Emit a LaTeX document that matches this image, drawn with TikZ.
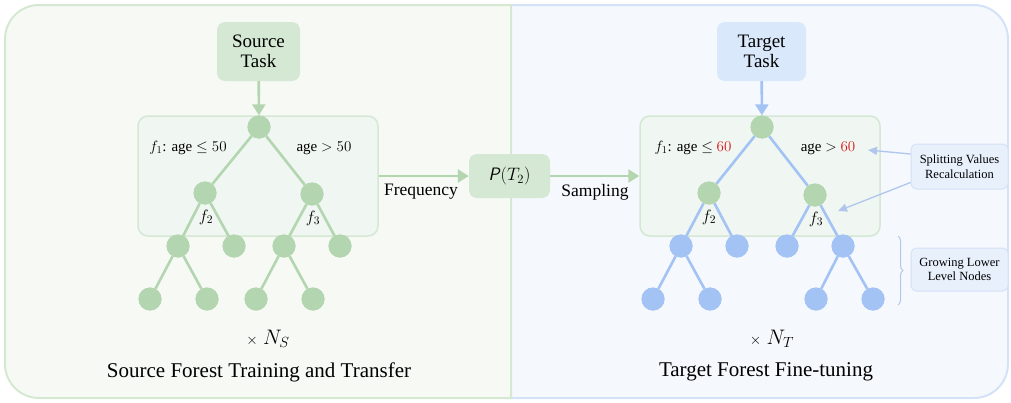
\RequirePackage{fix-cm}
\documentclass[tikz,border=0pt]{standalone}
\usepackage{fontspec}
\setmainfont{Liberation Serif}
\usetikzlibrary{arrows.meta,decorations.pathreplacing}
\definecolor{pgbg}{HTML}{F7F9F5}
\definecolor{pgbd}{HTML}{D5E8D2}
\definecolor{pbbg}{HTML}{F5F8FD}
\definecolor{pbbd}{HTML}{D4E2F7}
\definecolor{gtask}{HTML}{D5E8D4}
\definecolor{btask}{HTML}{DAE8FC}
\definecolor{treefill}{HTML}{F0F6F1}
\definecolor{gnode}{HTML}{B3D6B0}
\definecolor{bnode}{HTML}{A3C3F5}
\definecolor{annfill}{HTML}{E8F0FC}
\definecolor{annarrow}{HTML}{B0C6EC}
\definecolor{redval}{HTML}{D7191C}
\tikzset{
  taskbox/.style={rounded corners=8pt, inner sep=0pt, align=center, font=\fontsize{19}{22}\selectfont},
  treebox/.style={rounded corners=10pt, draw=gtask, line width=1.5pt, fill=treefill, inner sep=0pt, minimum width=240pt, minimum height=120pt},
  gn/.style={circle, fill=gnode, minimum size=23pt, inner sep=0pt},
  bn/.style={circle, fill=bnode, minimum size=23pt, inner sep=0pt},
  gedge/.style={draw=gnode, line width=2.6pt},
  bedge/.style={draw=bnode, line width=2.6pt},
  garrow/.style={draw=gnode, line width=2.6pt, -{Triangle[length=11pt,width=13pt]}},
  barrowbig/.style={draw=bnode, line width=2.6pt, -{Triangle[length=11pt,width=13pt]}},
  ann/.style={rounded corners=6pt, draw=pbbd, line width=1pt, fill=annfill, inner sep=0pt, minimum width=97pt, align=center, font=\fontsize{12.5}{14.5}\selectfont},
  annarr/.style={draw=annarrow, line width=1.3pt, -{Triangle[length=9pt,width=8pt]}},
  lab/.style={inner sep=0pt, font=\fontsize{15}{17}\selectfont},
  flab/.style={inner sep=0pt, font=\fontsize{16.5}{18}\selectfont},
  midlab/.style={inner sep=0pt, font=\fontsize{17.5}{20}\selectfont},
  title/.style={inner sep=0pt, font=\fontsize{21}{24}\selectfont},
  nlab/.style={inner sep=0pt, font=\fontsize{21}{24}\selectfont},
}
\begin{document}
\begin{tikzpicture}[x=1pt,y=-1pt]
\useasboundingbox (0,0) rectangle (1011,402);
% panels
\draw[fill=pbbg, draw=pbbd, line width=2pt] (505,5) [rounded corners=34pt] -- (1008,5) -- (1008,398) [sharp corners] -- (505,398) -- cycle;
\draw[fill=pgbg, draw=pgbd, line width=2pt] (511,5) [rounded corners=34pt] -- (5,5) -- (5,398) [sharp corners] -- (511,398) -- cycle;

% ---------------- left ----------------
\node[taskbox, fill=gtask, minimum width=83pt, minimum height=59pt] (src) at (258.5,51.5) {Source\\[-2pt]Task};
\node[treebox] (treeL) at (258,176) {};
\node[gn] (lr) at (259,127) {};
\node[gn] (la) at (205,193) {};
\node[gn] (lb) at (312,194) {};
\node[gn] (laa) at (178,246) {};
\node[gn] (lab) at (234,246) {};
\node[gn] (lba) at (284,246) {};
\node[gn] (lbb) at (340,246) {};
\node[gn] (laaa) at (150,299) {};
\node[gn] (laab) at (207,299) {};
\node[gn] (lbaa) at (256,299) {};
\node[gn] (lbab) at (313,299) {};
\draw[gedge] (lr) -- (la); \draw[gedge] (lr) -- (lb);
\draw[gedge] (la) -- (laa); \draw[gedge] (la) -- (lab);
\draw[gedge] (lb) -- (lba); \draw[gedge] (lb) -- (lbb);
\draw[gedge] (laa) -- (laaa); \draw[gedge] (laa) -- (laab);
\draw[gedge] (lba) -- (lbaa); \draw[gedge] (lba) -- (lbab);
\foreach \n in {lr,la,lb,laa,lab,lba,lbb,laaa,laab,lbaa,lbab} \fill[gnode] (\n) circle (11.5pt);
\draw[garrow] (src) -- (lr);
\node[lab] (lf1) at (188,148) {$f_1$: age $\leq 50$};
\node[lab] (lg) at (324,148) {age $> 50$};
\node[flab] (lf2) at (206,217) {$f_2$};
\node[flab] (lf3) at (313,218) {$f_3$};
\node[nlab] (lns) at (268,339) {$\scriptstyle\times\ \displaystyle N_S$};
\node[title] (ltitle) at (259,372) {Source Forest Training and Transfer};

% ---------------- middle ----------------
\node[taskbox, fill=gtask, minimum width=81pt, minimum height=44pt, font=\fontsize{18}{20}\selectfont] (pbox) at (509.5,176) {\textsf{\itshape P}$(T_2)$};
\draw[garrow] (treeL.east) -- (pbox.west);
\node[midlab] (freq) at (421,192) {Frequency};
\node[midlab] (samp) at (595,192) {Sampling};

% ---------------- right ----------------
\node[taskbox, fill=btask, minimum width=89pt, minimum height=59pt] (tgt) at (761.5,51.5) {Target\\[-2pt]Task};
\node[treebox] (treeR) at (760,176) {};
\draw[garrow] (pbox.east) -- (treeR.west);
\node[gn] (rr) at (762,127) {};
\node[gn] (ra) at (709,193) {};
\node[gn] (rb) at (815,195) {};
\node[bn] (raa) at (681,246) {};
\node[bn] (rab) at (737,246) {};
\node[bn] (rba) at (787,246) {};
\node[bn] (rbb) at (843,246) {};
\node[bn] (raaa) at (653,299) {};
\node[bn] (raab) at (710,299) {};
\node[bn] (rbba) at (816,299) {};
\node[bn] (rbbb) at (873,299) {};
\draw[bedge] (rr) -- (ra); \draw[bedge] (rr) -- (rb);
\draw[bedge] (ra) -- (raa); \draw[bedge] (ra) -- (rab);
\draw[bedge] (rb) -- (rba); \draw[bedge] (rb) -- (rbb);
\draw[bedge] (raa) -- (raaa); \draw[bedge] (raa) -- (raab);
\draw[bedge] (rbb) -- (rbba); \draw[bedge] (rbb) -- (rbbb);
\foreach \n in {rr,ra,rb} \fill[gnode] (\n) circle (11.5pt);
\foreach \n in {raa,rab,rba,rbb,raaa,raab,rbba,rbbb} \fill[bnode] (\n) circle (11.5pt);
\draw[barrowbig] (tgt) -- (rr);
\node[lab] (rf1) at (693,148) {$f_1$: age $\leq$ \textcolor{redval}{$60$}};
\node[lab] (rg) at (828,148) {age $>$ \textcolor{redval}{$60$}};
\node[flab] (rf2) at (709,217) {$f_2$};
\node[flab] (rf3) at (816,219) {$f_3$};
\node[nlab] (rnt) at (772,339) {$\scriptstyle\times\ \displaystyle N_T$};
\node[title] (rtitle) at (766,372) {Target Forest Fine-tuning};

% annotations
\node[ann, minimum height=45pt] (spl) at (959.5,166.5) {Splitting Values\\Recalculation};
\node[ann, minimum height=43pt] (grow) at (959.5,269.5) {Growing Lower\\Level Nodes};
\coordinate (t1) at (868,150);
\coordinate (t2) at (838,211);
\draw[annarr] ([yshift=12.5pt]spl.west) -- (t1);
\draw[annarr] ([yshift=-16pt]spl.west) -- (t2);
\coordinate (b1) at (898,236);
\coordinate (b2) at (898,305);
\draw[draw=annarrow, line width=1pt, decorate, decoration={brace, amplitude=5pt}] (b1) -- (b2);
\end{tikzpicture}
\end{document}
